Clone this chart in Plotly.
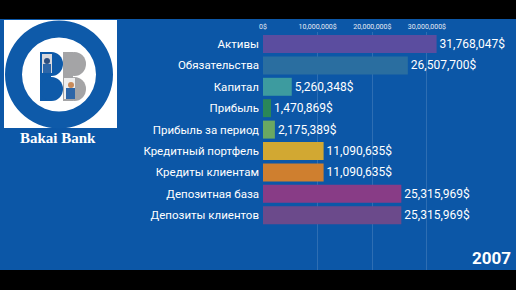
import plotly.graph_objects as go

categories = ["Активы", "Обязательства", "Капитал", "Прибыль", "Прибыль за период",
              "Кредитный портфель", "Кредиты клиентам", "Депозитная база", "Депозиты клиентов"]
values = [31768047, 26507700, 5260348, 1470869, 2175389, 11090635, 11090635, 25315969, 25315969]
bar_colors = ["#5b4d9f", "#2a6ea0", "#3d9b9f", "#2a8758", "#6aa862",
              "#d2a832", "#cf7f2f", "#883c86", "#6b4a8b"]
tick_vals = [0, 10000000, 20000000, 30000000]
tick_text = ["0$", "10,000,000$", "20,000,000$", "30,000,000$"]
year_label = "2007"
bank_name = "Bakai Bank"

W, H = 516, 290
L, R, T, B = 263, 6, 32, 20
PW, PH = W - L - R, H - T - B
BLUE = "#0c57a7"

def px(x):
    return (x - L) / PW

def py(y):
    return 1 - (y - T) / PH

def rect(x0, y0, x1, y1, color, layer="below"):
    return dict(type="rect", xref="paper", yref="paper", x0=px(x0), x1=px(x1),
                y0=py(y1), y1=py(y0), fillcolor=color, line=dict(width=0), layer=layer)

def circ(x0, y0, x1, y1, color, layer="above"):
    return dict(type="circle", xref="paper", yref="paper", x0=px(x0), x1=px(x1),
                y0=py(y1), y1=py(y0), fillcolor=color, line=dict(width=0), layer=layer)

labels = [f"{v:,}$" for v in values]

fig = go.Figure(go.Bar(
    x=values, y=categories, orientation="h",
    marker=dict(color=bar_colors, line=dict(width=0)),
    text=labels, textposition="outside", cliponaxis=False,
    textfont=dict(family="Roboto", size=12, color="white"),
    hoverinfo="skip",
))

shapes = [
    rect(0, 19, W, 270, BLUE),
    rect(4, 20, 117, 128, "white", "above"),
    circ(5, 20.5, 113, 128.5, "#0e5aa9"),
    circ(22, 37.5, 96, 111.5, "white"),
    # left B (blue)
    rect(40, 52, 51, 101, "#0e5aa9", "above"),
    circ(40, 52, 63, 76, "#0e5aa9"),
    circ(40, 77, 63, 101, "#0e5aa9"),
    rect(42, 54, 52, 73, "#d8d8dc", "above"),
    circ(44, 58, 50, 64, "#2e4f7f"),
    rect(43, 64, 51, 73, "#2d66a8", "above"),
    # right B (gray)
    rect(63, 52, 73, 101, "#a4a4a6", "above"),
    circ(63, 52, 86, 76, "#a4a4a6"),
    circ(63, 77, 86, 101, "#a4a4a6"),
    rect(64, 78, 75, 99, "#eeeeee", "above"),
    circ(68, 82, 74, 88, "#c98b5a"),
    rect(66, 88, 75, 99, "#2d66a8", "above"),
]

fig.update_layout(
    width=W, height=H,
    margin=dict(l=L, r=R, t=T, b=B),
    paper_bgcolor="black",
    plot_bgcolor="rgba(0,0,0,0)",
    bargap=0.16,
    showlegend=False,
    shapes=shapes,
    font=dict(family="Roboto", color="white"),
    xaxis=dict(range=[0, 45200000], side="top", tickvals=tick_vals, ticktext=tick_text,
               tickfont=dict(size=7, color="#e6ecf5"), showgrid=True,
               gridcolor="rgba(255,255,255,0.14)", gridwidth=1, zeroline=False,
               showline=False, ticks="", ticklabelstandoff=1),
    yaxis=dict(categoryorder="array", categoryarray=categories, range=[10.56, -0.56],
               tickfont=dict(size=11.5, color="white"), showgrid=False, zeroline=False,
               showline=False, ticks="", ticklabelstandoff=3),
    annotations=[
        dict(text=f"<b>{year_label}</b>", xref="paper", yref="paper", x=px(513), y=py(258),
             xanchor="right", yanchor="middle", showarrow=False,
             font=dict(family="Roboto", size=17, color="white")),
        dict(text=f"<b>{bank_name}</b>", xref="paper", yref="paper", x=px(58), y=py(138),
             xanchor="center", yanchor="middle", showarrow=False,
             font=dict(family="Liberation Serif", size=15, color="white")),
    ],
)

fig.write_html("out.html")
